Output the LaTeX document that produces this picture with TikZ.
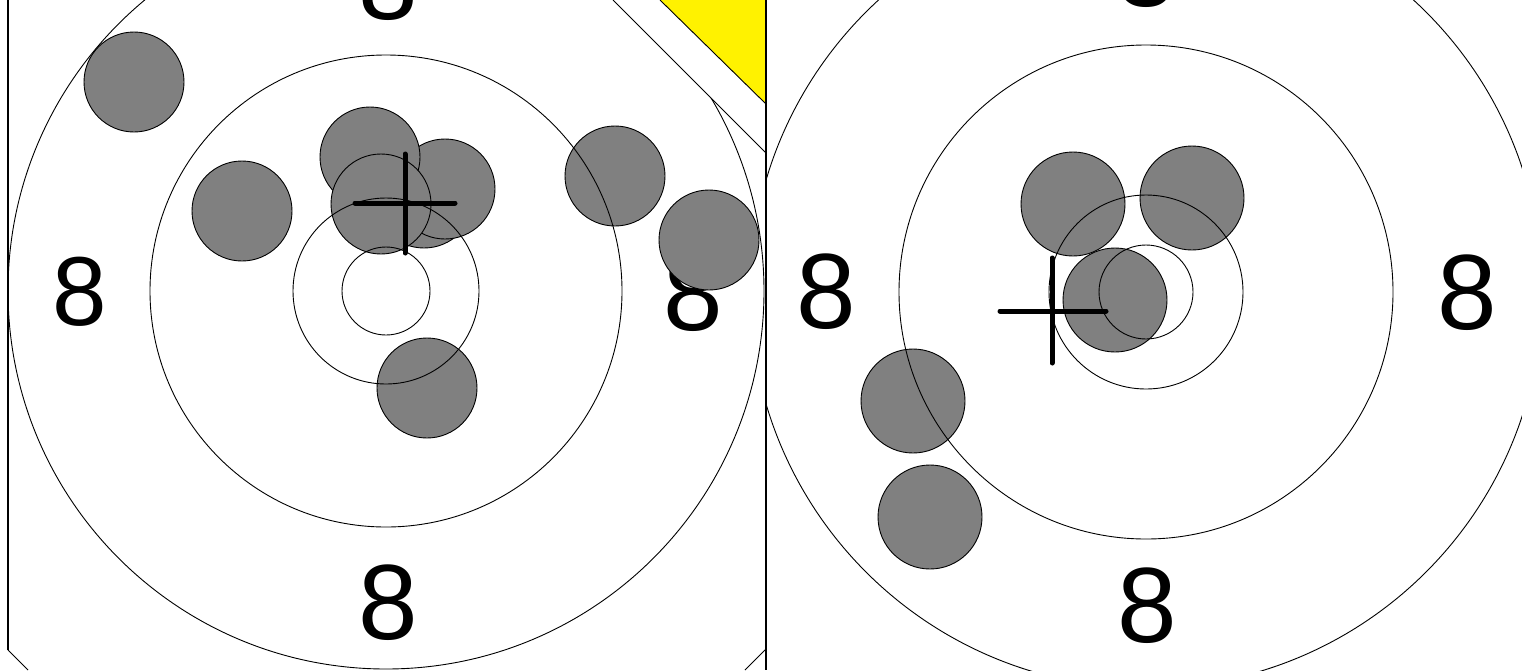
\documentclass[tikz,border=0pt]{standalone}
\usepackage{fontspec}
\setmainfont{Liberation Sans}
\begin{document}
\begin{tikzpicture}[x=1pt,y=-1pt,
  ring/.style={draw=black,line width=0.9pt},
  shot/.style={draw=black,fill=black!50,line width=0.9pt},
  crossline/.style={draw=black,line width=5pt,line cap=round},
  edge/.style={draw=black,line width=0.9pt},
  lbl/.style={inner sep=0pt,font=\fontsize{107}{107}\selectfont},
  lbls/.style={inner sep=0pt,font=\fontsize{98}{98}\selectfont}]
\useasboundingbox (0,0) rectangle (1522,670);
\fill[white] (0,0) rectangle (1522,670);

% ---------------- right target ----------------
\begin{scope}
  \clip (767,0) rectangle (1522,670);
  \node[lbl] (rT) at (1146,-30) {8};
  \node[lbl] (rL) at (826,292) {8};
  \node[lbl] (rR) at (1467,293) {8};
  \node[lbl] (rB) at (1147,606) {8};
  \path[shot] (1073,204) circle[radius=52pt];
  \path[shot] (1192,198) circle[radius=52pt];
  \path[shot] (1115,300) circle[radius=52pt];
  \path[shot] (913,401) circle[radius=52pt];
  \path[shot] (930,517) circle[radius=52pt];
  \path[ring] (1146,292) circle[radius=47pt];
  \path[ring] (1146,292) circle[radius=97pt];
  \path[ring] (1146,292) circle[radius=247pt];
  \path[ring] (1146,292) circle[radius=396pt];
  \coordinate (rc1) at (1052,258);
  \coordinate (rc2) at (1052,363);
  \coordinate (rc3) at (1000,311);
  \coordinate (rc4) at (1106,311);
  \draw[crossline] (rc1) -- (rc2);
  \draw[crossline] (rc3) -- (rc4);
\end{scope}

% ---------------- left target ----------------
\begin{scope}
  \clip (8,0) -- (613,0) -- (766,153) -- (766,649) -- (745,670) -- (28,670) -- (8,650) -- cycle;
  \node[lbl] (lT) at (388,-17) {8};
  \node[lbls] (lL) at (80,292) {8};
  \node[lbl] (lR) at (693,294) {8};
  \node[lbl] (lB) at (388,603) {8};
  \path[shot] (134,82) circle[radius=50pt];
  \path[shot] (242,211) circle[radius=50pt];
  \path[shot] (424,198) circle[radius=50pt];
  \path[shot] (445,189) circle[radius=50pt];
  \path[shot] (370,157) circle[radius=50pt];
  \path[shot] (381,204) circle[radius=50pt];
  \path[shot] (615,176) circle[radius=50pt];
  \path[shot] (709,240) circle[radius=50pt];
  \path[shot] (427,388) circle[radius=50pt];
  \path[ring] (386,291) circle[radius=44pt];
  \path[ring] (386,291) circle[radius=93pt];
  \path[ring] (386,291) circle[radius=236pt];
  \path[ring] (386,291) circle[radius=378pt];
  \coordinate (lc1) at (405,154);
  \coordinate (lc2) at (405,253);
  \coordinate (lc3) at (355,203);
  \coordinate (lc4) at (455,203);
  \draw[crossline] (lc1) -- (lc2);
  \draw[crossline] (lc3) -- (lc4);
\end{scope}

% ---------------- frame ----------------
\coordinate (y1) at (660,0);
\coordinate (y2) at (766,0);
\coordinate (y3) at (766,104);
\fill[yellow] (y1) -- (y2) -- (y3) -- cycle;
\draw[edge] (y1) -- (y3);
\coordinate (f1) at (8,0);
\coordinate (f2) at (8,650);
\coordinate (f3) at (28,670);
\coordinate (f4) at (613,0);
\coordinate (f5) at (766,153);
\coordinate (f6) at (745,670);
\coordinate (f7) at (766,649);
\coordinate (f8) at (766,0);
\coordinate (f9) at (766,670);
\draw[draw=black,line width=1.5pt] (f1) -- (f2);
\draw[edge] (f2) -- (f3);
\draw[edge] (f4) -- (f5);
\draw[edge] (f6) -- (f7);
\draw[draw=black,line width=1.6pt] (f8) -- (f9);
\end{tikzpicture}
\end{document}
